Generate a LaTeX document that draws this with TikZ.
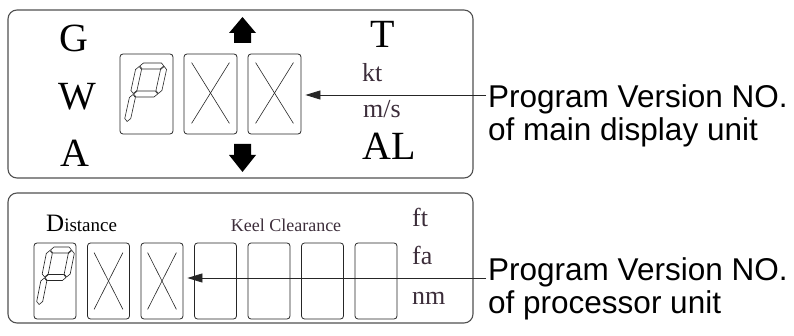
\documentclass[tikz,border=0pt]{standalone}
\usepackage{fontspec}
\setmainfont{Liberation Serif}
\newfontfamily\sansf{Liberation Sans}
\usetikzlibrary{arrows.meta}
\definecolor{lbl}{RGB}{60,45,58}
\definecolor{panel}{RGB}{80,80,80}
\newcommand{\fsz}[1]{\fontsize{#1}{#1}\selectfont}
\newcommand{\segH}[3]{\draw[segline] ({#1+0.5},#3) -- ({#1+3.5},{#3-3}) -- ({#2-3.5},{#3-3}) -- ({#2-0.5},#3) -- ({#2-3.5},{#3+3}) -- ({#1+3.5},{#3+3}) -- cycle;}
\newcommand{\segV}[3]{\draw[segline] (#1,{#2-0.5}) -- ({#1+3},{#2-3.5}) -- ({#1+3},{#3+3.5}) -- (#1,{#3+0.5}) -- ({#1-3},{#3+3.5}) -- ({#1-3},{#2-3.5}) -- cycle;}
\newcommand{\digitP}[2]{%
  \segH{0}{#1}{-#2}
  \segH{0}{#1}{-#2/2}
  \segV{0}{-#2/2}{-#2}
  \segV{#1}{-#2/2}{-#2}
  \segV{0}{0}{-#2/2}}
\begin{document}
\begin{tikzpicture}[x=1pt,y=-1pt,
  panelbox/.style={draw=panel, line width=1.1pt, rounded corners=9pt},
  topdigit/.style={draw=black!85, line width=0.8pt, rounded corners=3pt, minimum width=53pt, minimum height=80pt, inner sep=0pt},
  botdigit/.style={draw=black!85, line width=0.8pt, rounded corners=3pt, minimum width=42pt, minimum height=76pt, inner sep=0pt},
  xline/.style={draw=black!85, line width=0.6pt},
  segline/.style={draw=black!85, line width=0.6pt, line join=round},
  pointer/.style={draw=black!85, line width=0.8pt, -{Triangle[length=15pt,width=9pt]}},
  big/.style={font=\fsz{40}, anchor=base west, inner sep=0pt},
  unit/.style={font=\fsz{26}, text=lbl, anchor=base west, inner sep=0pt},
  note/.style={font=\sansf\fsz{31.5}, anchor=base west, inner sep=0pt},
  blockarrow/.style={fill=black}]
\useasboundingbox (0,0) rectangle (794,336);
% panels
\draw[panelbox] (8,10) rectangle (473,178);
\draw[panelbox] (8,193) rectangle (473,323);
% top panel letters
\node[big] (g) at (59,52) {G};
\node[big] (w) at (58,110) {W};
\node[big] (a) at (60,167) {A};
\node[big] (t) at (370,48) {T};
\node[unit] (kt) at (362,82) {kt};
\node[unit] (ms) at (363,118) {m/s};
\node[big] (al) at (362,160) {AL};
% top digit boxes
\node[topdigit] (d1) at (146.5,94) {};
\node[topdigit] (d2) at (210.5,94) {};
\node[topdigit] (d3) at (274.5,94) {};
\foreach \d in {d2,d3}{
  \draw[xline] ([shift={(8,9)}]\d.north west) -- ([shift={(-8,-11)}]\d.south east);
  \draw[xline] ([shift={(-8,9)}]\d.north east) -- ([shift={(8,-11)}]\d.south west);
}
\begin{scope}[shift={(127,122)}, xslant=0.22]
  \digitP{25}{56}
\end{scope}
% block arrows
\fill[blockarrow] (242.5,17) -- (256,33) -- (251,33) -- (251,43) -- (234,43) -- (234,33) -- (229,33) -- cycle;
\fill[blockarrow] (234,144) -- (251,144) -- (251,155) -- (256,155) -- (242.5,172) -- (229,155) -- (234,155) -- cycle;
% bottom panel labels
\node[anchor=base west, inner sep=0pt] (dist) at (46,232) {\fsz{25}D\fsz{19}istance};
\node[anchor=base, inner sep=0pt, text=lbl, font=\fsz{18}] (keel) at (286,232) {Keel Clearance};
\node[unit] (ft) at (412,227) {ft};
\node[unit] (fa) at (412,265) {fa};
\node[unit] (nm) at (412,305) {nm};
% bottom digit boxes
\foreach \i/\x in {1/55,2/108.5,3/162,4/215.5,5/269,6/322.5,7/376}{
  \node[botdigit] (b\i) at (\x,281) {};
}
\foreach \d in {b2,b3}{
  \draw[xline] ([shift={(7,10)}]\d.north west) -- ([shift={(-7,-10)}]\d.south east);
  \draw[xline] ([shift={(-7,10)}]\d.north east) -- ([shift={(7,-10)}]\d.south west);
}
\begin{scope}[shift={(39,305)}, xslant=0.2]
  \digitP{22}{55}
\end{scope}
% notes
\node[note] (n1) at (488,108) {Program Version NO.};
\node[note] (n2) at (488,141) {of main display unit};
\node[note] (n3) at (488,280) {Program Version NO.};
\node[note] (n4) at (488,313) {of processor unit};
% pointers
\coordinate (p1) at (486,95);
\coordinate (p2) at (486,278);
\draw[pointer, shorten >=4pt] (p1) -- (p1 -| d3.east);
\draw[pointer, shorten >=4pt] (p2) -- (p2 -| b3.east);
\end{tikzpicture}
\end{document}
